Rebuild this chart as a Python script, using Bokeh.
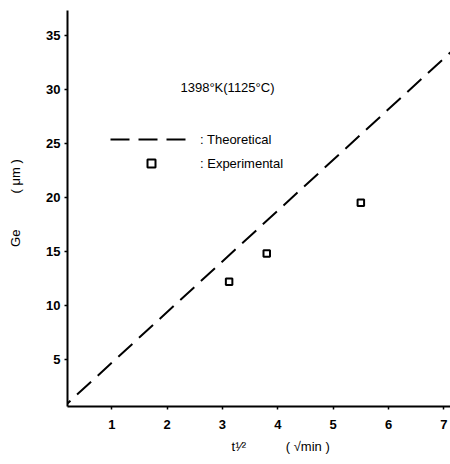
from bokeh.plotting import figure
from bokeh.models import Label, Legend, LegendItem, Range1d, FixedTicker
from bokeh.embed import file_html
from bokeh.resources import INLINE

# Data
theo_t = [0.0, 7.2]          # t^(1/2), sqrt(min)
theo_ge = [0.0, 33.8]        # Ge, micrometres
exp_t = [3.12, 3.80, 5.50]
exp_ge = [12.2, 14.8, 19.5]
x_ticks = [1, 2, 3, 4, 5, 6, 7]
y_ticks = [5, 10, 15, 20, 25, 30, 35]

FONT = "Liberation Sans"
NB = "\u00a0"

p = figure(width=450, height=464, output_backend="svg", toolbar_location=None,
           x_range=Range1d(0.2, 7.12), y_range=Range1d(0.65, 37.3),
           min_border_left=67, min_border_right=0, min_border_top=10, min_border_bottom=58)
p.outline_line_color = None
p.xgrid.visible = False
p.ygrid.visible = False
p.background_fill_color = "white"
p.border_fill_color = "white"

for ax in (p.xaxis[0], p.yaxis[0]):
    ax.axis_line_width = 2
    ax.axis_line_color = "black"
    ax.major_tick_line_color = "black"
    ax.major_tick_line_width = 1.5
    ax.major_tick_in = 0
    ax.major_tick_out = 3
    ax.minor_tick_line_color = None
    ax.major_label_text_font = FONT
    ax.major_label_text_font_size = "13px"
    ax.major_label_text_font_style = "bold"
    ax.major_label_text_color = "black"
    ax.axis_label_text_font = FONT
    ax.axis_label_text_font_size = "13px"
    ax.axis_label_text_font_style = "normal"
    ax.axis_label_text_color = "black"
p.xaxis[0].ticker = FixedTicker(ticks=x_ticks)
p.yaxis[0].ticker = FixedTicker(ticks=y_ticks)
p.xaxis[0].major_label_standoff = 10
p.yaxis[0].major_label_standoff = 4

p.yaxis[0].axis_label = NB * 3 + "Ge" + NB * 10 + "(" + NB + "μm" + NB + ")"
p.yaxis[0].axis_label_standoff = 20
p.xaxis[0].axis_label = NB * 12 + "t" + "¹⁄²" + NB * 11 + "(" + NB + "√min" + NB + ")"
p.xaxis[0].axis_label_standoff = 7

r_theo = p.line(theo_t, theo_ge, line_color="black", line_width=2, line_dash="19 9")
r_exp = p.scatter(exp_t, exp_ge, marker="square", size=6.5, fill_color="white",
                  line_color="black", line_width=2)

legend = Legend(items=[LegendItem(label=": Theoretical", renderers=[r_theo]),
                       LegendItem(label=": Experimental", renderers=[r_exp])],
                location=(43, 233), orientation="vertical")
legend.glyph_width = 82
legend.glyph_height = 20
legend.label_height = 20
legend.spacing = 4
legend.padding = 0
legend.margin = 0
legend.label_standoff = 8
legend.border_line_color = None
legend.background_fill_alpha = 0
legend.label_text_font = FONT
legend.label_text_font_size = "13px"
legend.label_text_color = "black"
p.add_layout(legend, "center")

# frame bottom-left at screen (67, 406); y measured up from the frame bottom
p.add_layout(Label(x=180 - 67, y=406 - 87, x_units="screen", y_units="screen",
                   text="1398°K(1125°C)", text_font=FONT, text_font_size="13px",
                   text_color="black", text_align="left", text_baseline="middle"))

open("out.html", "w").write(file_html(p, INLINE))
